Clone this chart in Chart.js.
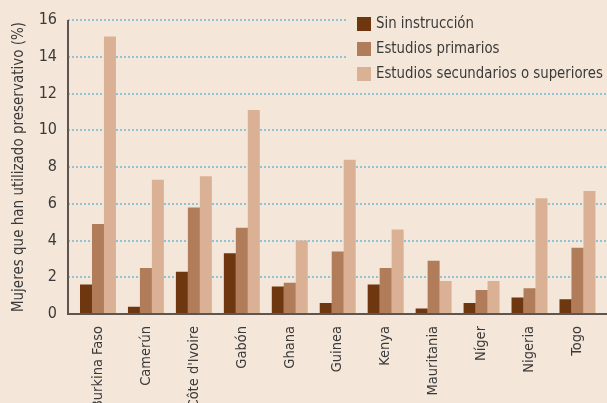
<!DOCTYPE html>
<html>
<head>
<meta charset="utf-8">
<script src="https://cdn.jsdelivr.net/npm/chart.js@4"></script>
<style>
  html, body { margin: 0; padding: 0; background: #f4e6d8; }
  #wrap { width: 607px; height: 403px; }
</style>
</head>
<body>
<div id="wrap"><canvas id="myChart" width="607" height="403"></canvas></div>
<script>
var countries = ["Burkina Faso", "Camerún", "Côte d'Ivoire", "Gabón", "Ghana", "Guinea",
  "Kenya", "Mauritania", "Níger", "Nigeria", "Togo"];
var sinInstruccion = [1.6, 0.4, 2.3, 3.3, 1.5, 0.6, 1.6, 0.3, 0.6, 0.9, 0.8];
var primarios = [4.9, 2.5, 5.8, 4.7, 1.7, 3.4, 2.5, 2.9, 1.3, 1.4, 3.6];
var secundarios = [15.1, 7.3, 7.5, 11.1, 4.0, 8.4, 4.6, 1.8, 1.8, 6.3, 6.7];
var yTicks = [0, 2, 4, 6, 8, 10, 12, 14, 16];

var FONT = "'Liberation Sans Narrow', 'DejaVu Sans Condensed', sans-serif";
var BG = "#f4e6d8";

// grid, axis lines and legend box drawn by hand
var decor = {
  id: "decor",
  beforeDatasetsDraw: function (chart) {
    var ctx = chart.ctx;
    var y = chart.scales.y;
    var axisX = 68;
    ctx.save();
    ctx.strokeStyle = "#8fc4d8";
    ctx.lineWidth = 2;
    ctx.setLineDash([2, 2]);
    yTicks.forEach(function (v) {
      if (v === 0) return;
      var py = Math.round(y.getPixelForValue(v));
      ctx.beginPath();
      ctx.moveTo(axisX, py);
      ctx.lineTo(chart.width, py);
      ctx.stroke();
    });
    ctx.setLineDash([]);
    // legend box
    ctx.fillStyle = BG;
    ctx.fillRect(348, 0, chart.width - 348, 86);
    chart.data.datasets.forEach(function (ds, i) {
      var top = 17 + i * 25;
      ctx.fillStyle = ds.backgroundColor;
      ctx.fillRect(357, top, 14, 14);
      ctx.save();
      ctx.translate(376, top + 7);
      ctx.scale(0.925, 1);
      ctx.fillStyle = "#3a3a3a";
      ctx.font = "16px " + FONT;
      ctx.textBaseline = "middle";
      ctx.fillText(ds.label, 0, 0);
      ctx.restore();
    });
    ctx.restore();
  },
  afterDatasetsDraw: function (chart) {
    var ctx = chart.ctx;
    var y = chart.scales.y;
    var y0 = y.getPixelForValue(0);
    var y16 = y.getPixelForValue(16);
    ctx.save();
    ctx.strokeStyle = "#5d5650";
    ctx.lineWidth = 2;
    ctx.beginPath();
    ctx.moveTo(68, y16);
    ctx.lineTo(68, y0);
    ctx.lineTo(chart.width, y0);
    ctx.stroke();
    ctx.restore();
  }
};

var ctx = document.getElementById("myChart").getContext("2d");
var myChart = new Chart(ctx, {
  type: "bar",
  data: {
    labels: countries,
    datasets: [
      { label: "Sin instrucción", data: sinInstruccion, backgroundColor: "#6e370f" },
      { label: "Estudios primarios", data: primarios, backgroundColor: "#b07c5a" },
      { label: "Estudios secundarios o superiores", data: secundarios, backgroundColor: "#dbb196" },
    ],
  },
  options: {
    responsive: false,
    animation: false,
    layout: { padding: { top: 20, right: 3, left: 0, bottom: 0 } },
    datasets: { bar: { categoryPercentage: 0.75, barPercentage: 1.0 } },
    plugins: { legend: { display: false }, tooltip: { enabled: false } },
    scales: {
      x: {
        grid: { display: false, drawTicks: false },
        border: { display: false },
        ticks: {
          autoSkip: false, maxRotation: 90, minRotation: 90, padding: 12,
          color: "#3a3a3a", font: { family: FONT, size: 14.5 },
        },
        afterFit: function (scale) { scale.height = 89; },
      },
      y: {
        min: 0, max: 16,
        grid: { display: false, drawTicks: false },
        border: { display: false },
        afterBuildTicks: function (scale) {
          scale.ticks = yTicks.map(function (v) { return { value: v }; });
        },
        ticks: { padding: 17, color: "#3a3a3a", font: { family: FONT, size: 16 } },
        title: {
          display: true,
          text: "Mujeres que han utilizado preservativo (%)",
          color: "#3a3a3a",
          font: { family: FONT, size: 15 },
          padding: { top: 10, bottom: 0 },
        },
        afterFit: function (scale) {
          scale.width = 74;
          scale.paddingTop = 0;
          scale.paddingBottom = 0;
        },
      },
    },
  },
  plugins: [decor],
});
</script>
</body>
</html>
